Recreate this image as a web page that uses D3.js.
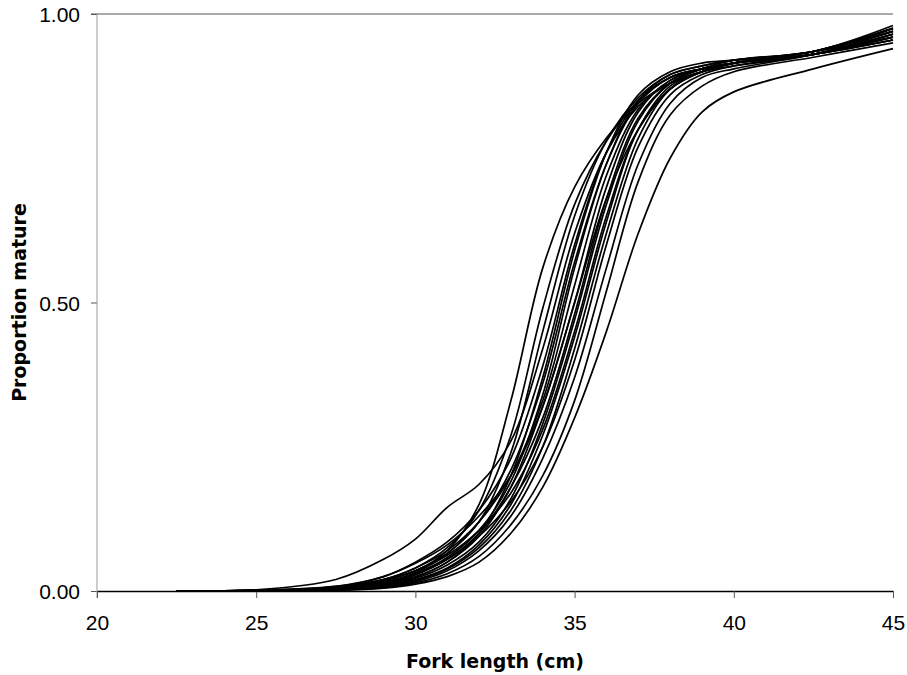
<!DOCTYPE html>
<html>
<head>
<meta charset="utf-8">
<style>
    body { margin: 0; background: #fff; }
    svg { display: block; }
    .tick text { font-family: 'Liberation Sans', Arial, sans-serif; font-size: 21px; fill: #000; }
    .axis-title { font-family: 'DejaVu Sans', Verdana, sans-serif; font-size: 19px; font-weight: bold; }
</style>
</head>
<body>
<svg width="907" height="675"></svg>

<script src="https://d3js.org/d3.v7.min.js"></script>
<script>
    let lengths = [22.5, 25, 27.5, 29, 30, 31, 32, 33, 34, 35, 36, 37, 38, 39, 40, 42.5, 45]

    // proportion mature, one array per fitted curve
    let curve01 = [0, 0.001, 0.008, 0.02, 0.035, 0.07, 0.15, 0.33, 0.56, 0.70, 0.785, 0.845, 0.88, 0.90, 0.91, 0.93, 0.965]
    let curve02 = [0, 0.002, 0.02, 0.055, 0.09, 0.145, 0.185, 0.26, 0.42, 0.62, 0.76, 0.84, 0.88, 0.9, 0.915, 0.935, 0.96]
    let curve03 = [0, 0.001, 0.006, 0.02, 0.04, 0.075, 0.14, 0.27, 0.49, 0.67, 0.78, 0.85, 0.89, 0.905, 0.915, 0.93, 0.97]
    let curve04 = [0, 0, 0.004, 0.015, 0.032, 0.065, 0.12, 0.24, 0.45, 0.65, 0.78, 0.855, 0.895, 0.91, 0.92, 0.935, 0.975]
    let curve05 = [0, 0.001, 0.007, 0.025, 0.05, 0.085, 0.14, 0.23, 0.39, 0.6, 0.76, 0.85, 0.89, 0.905, 0.915, 0.93, 0.955]
    let curve06 = [0, 0, 0.003, 0.012, 0.025, 0.05, 0.1, 0.2, 0.37, 0.59, 0.76, 0.86, 0.9, 0.915, 0.92, 0.935, 0.98]
    let curve07 = [0, 0.001, 0.005, 0.018, 0.035, 0.065, 0.12, 0.21, 0.36, 0.57, 0.74, 0.845, 0.89, 0.905, 0.915, 0.93, 0.965]
    let curve08 = [0, 0, 0.004, 0.014, 0.03, 0.058, 0.105, 0.19, 0.34, 0.56, 0.74, 0.85, 0.895, 0.91, 0.92, 0.935, 0.97]
    let curve09 = [0, 0.001, 0.006, 0.02, 0.04, 0.07, 0.12, 0.2, 0.33, 0.53, 0.72, 0.835, 0.885, 0.905, 0.915, 0.93, 0.96]
    let curve10 = [0, 0, 0.003, 0.011, 0.024, 0.05, 0.095, 0.18, 0.32, 0.5, 0.7, 0.83, 0.885, 0.905, 0.915, 0.935, 0.975]
    let curve11 = [0, 0.001, 0.008, 0.025, 0.048, 0.08, 0.13, 0.2, 0.32, 0.5, 0.68, 0.8, 0.87, 0.9, 0.915, 0.93, 0.955]
    let curve12 = [0, 0, 0.004, 0.013, 0.028, 0.055, 0.1, 0.18, 0.3, 0.48, 0.68, 0.82, 0.88, 0.905, 0.915, 0.935, 0.97]
    let curve13 = [0, 0, 0.003, 0.01, 0.022, 0.045, 0.085, 0.16, 0.29, 0.47, 0.67, 0.815, 0.88, 0.905, 0.92, 0.935, 0.975]
    let curve14 = [0, 0.001, 0.005, 0.017, 0.035, 0.062, 0.105, 0.17, 0.28, 0.45, 0.65, 0.8, 0.87, 0.9, 0.915, 0.93, 0.96]
    let curve15 = [0, 0, 0.003, 0.01, 0.02, 0.04, 0.08, 0.15, 0.27, 0.44, 0.64, 0.8, 0.875, 0.9, 0.915, 0.935, 0.97]
    let curve16 = [0, 0, 0.002, 0.008, 0.018, 0.038, 0.075, 0.14, 0.25, 0.42, 0.62, 0.785, 0.87, 0.9, 0.915, 0.935, 0.975]
    let curve17 = [0, 0.001, 0.004, 0.014, 0.03, 0.055, 0.095, 0.155, 0.25, 0.4, 0.6, 0.77, 0.86, 0.895, 0.91, 0.93, 0.955]
    let curve18 = [0, 0, 0.002, 0.007, 0.016, 0.035, 0.07, 0.13, 0.23, 0.37, 0.56, 0.74, 0.845, 0.89, 0.905, 0.93, 0.965]
    let curve19 = [0, 0, 0.002, 0.006, 0.014, 0.03, 0.06, 0.115, 0.2, 0.33, 0.52, 0.71, 0.825, 0.875, 0.9, 0.925, 0.95]
    let curve20 = [0, 0, 0.001, 0.005, 0.012, 0.025, 0.05, 0.1, 0.18, 0.3, 0.45, 0.62, 0.75, 0.83, 0.865, 0.905, 0.94]

    let curves = [curve01, curve02, curve03, curve04, curve05, curve06, curve07, curve08, curve09, curve10,
                  curve11, curve12, curve13, curve14, curve15, curve16, curve17, curve18, curve19, curve20]

    let xTicks = [20, 25, 30, 35, 40, 45]
    let yTicks = [0, 0.5, 1]

    let plotLeft = 97, plotRight = 893, plotTop = 14, plotBottom = 591

    let svg = d3.select("svg")

    let x = d3.scaleLinear().domain([20, 45]).range([plotLeft, plotRight])
    let y = d3.scaleLinear().domain([0, 1]).range([plotBottom, plotTop])

    // top frame line
    svg.append("line")
        .attr("x1", plotLeft - 6).attr("x2", plotRight)
        .attr("y1", plotTop).attr("y2", plotTop)
        .attr("stroke", "#555")
        .attr("stroke-width", 1)

    // y axis (grey)
    let yAxis = svg.append("g")
        .attr("transform", `translate(${plotLeft},0)`)
        .call(d3.axisLeft(y).tickValues(yTicks).tickFormat(d3.format(".2f")).tickSize(6).tickPadding(11))
    yAxis.select(".domain").remove()
    yAxis.selectAll(".tick line").attr("stroke", "#555")
    yAxis.selectAll(".tick text").attr("dy", "0.36em")

    svg.append("line")
        .attr("x1", plotLeft).attr("x2", plotLeft)
        .attr("y1", plotTop).attr("y2", plotBottom + 7)
        .attr("stroke", "#999")
        .attr("stroke-width", 1)

    // x axis
    let xAxis = svg.append("g")
        .attr("transform", `translate(0,${plotBottom})`)
        .call(d3.axisBottom(x).tickValues(xTicks).tickSize(7).tickSizeOuter(0).tickPadding(17))
    xAxis.select(".domain").attr("stroke", "#000").attr("stroke-width", 1.5)
    xAxis.selectAll(".tick line").attr("stroke", "#555")

    // curves
    let line = d3.line()
        .x((d, i) => x(lengths[i]))
        .y(d => y(d))
        .curve(d3.curveCatmullRom.alpha(0.5))

    svg.append("g")
        .selectAll("path")
        .data(curves)
        .join("path")
        .attr("d", line)
        .attr("fill", "none")
        .attr("stroke", "#000")
        .attr("stroke-width", 1.7)

    // axis titles
    svg.append("text")
        .attr("class", "axis-title")
        .attr("x", 495)
        .attr("y", 668)
        .attr("text-anchor", "middle")
        .text("Fork length (cm)")

    svg.append("text")
        .attr("class", "axis-title")
        .attr("transform", `translate(26,${(plotTop + plotBottom) / 2}) rotate(-90)`)
        .attr("text-anchor", "middle")
        .text("Proportion mature")
</script>
</body>
</html>
